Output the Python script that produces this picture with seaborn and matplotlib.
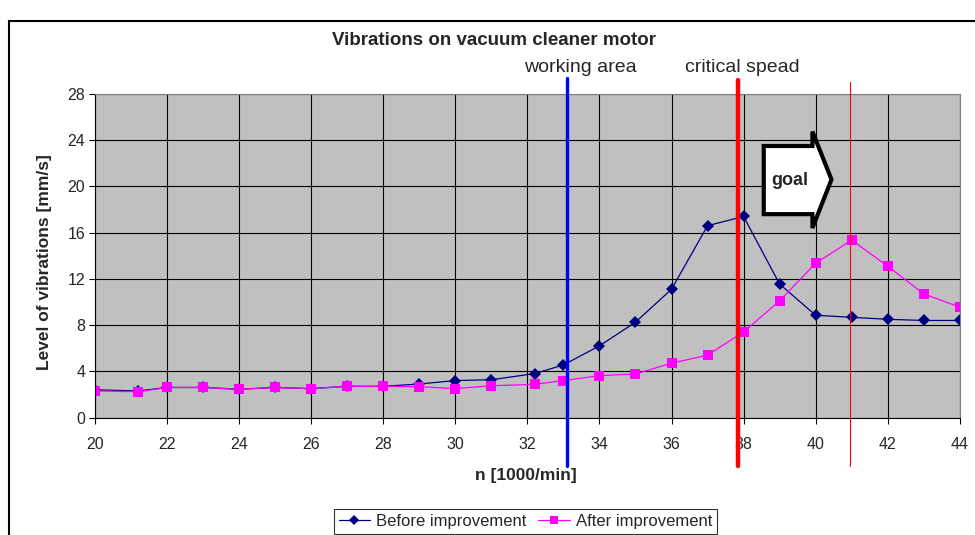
import matplotlib
matplotlib.use("Agg")
import pandas as pd
import seaborn as sns
import matplotlib.pyplot as plt
from matplotlib.patches import Rectangle, Polygon

# speed [1000/min]
speed = [20, 21.2, 22, 23, 24, 25, 26, 27, 28, 29, 30, 31, 32.2, 33, 34, 35,
         36, 37, 38, 39, 40, 41, 42, 43, 44]
before = [2.4, 2.3, 2.6, 2.6, 2.45, 2.6, 2.5, 2.7, 2.7, 2.9, 3.2, 3.27, 3.8,
          4.55, 6.2, 8.25, 11.1, 16.6, 17.4, 11.55, 8.85, 8.67, 8.5, 8.4, 8.4]
after = [2.3, 2.23, 2.6, 2.6, 2.44, 2.6, 2.5, 2.7, 2.7, 2.67, 2.5, 2.75, 2.87,
         3.2, 3.62, 3.77, 4.7, 5.4, 7.4, 10.1, 13.35, 15.35, 13.1, 10.7, 9.55]

x_ticks = list(range(20, 45, 2))
y_ticks = list(range(0, 29, 4))

working_area = 33.1
critical_speed = 37.85
goal_speed = 40.95

df = pd.DataFrame({"speed": speed, "before": before, "after": after})

sns.set_style("ticks")
plt.rcParams["font.family"] = ["Liberation Sans", "DejaVu Sans"]

fig = plt.figure(figsize=(9.75, 5.35), dpi=100)
ax = fig.add_axes([0.0974, 0.2196, 0.887, 0.6047])
ax.set_facecolor("#C0C0C0")

sns.lineplot(data=df, x="speed", y="before", ax=ax, color="#000080",
             marker="D", markersize=6, markeredgewidth=0, linewidth=0.9,
             label="Before improvement")
sns.lineplot(data=df, x="speed", y="after", ax=ax, color="#FF00FF",
             marker="s", markersize=7, markeredgewidth=0, linewidth=0.9,
             label="After improvement")

ax.set_xlim(20, 44)
ax.set_ylim(0, 28)
ax.set_xticks(x_ticks)
ax.set_yticks(y_ticks)
ax.grid(True, color="black", linewidth=0.8)
ax.set_axisbelow(True)
ax.tick_params(labelsize=11.5, length=4, width=0.8, color="black")
ax.tick_params(axis="x", pad=10)
ax.tick_params(axis="y", pad=3)
for side in ["top", "right"]:
    ax.spines[side].set_color("#808080")
for side in ["left", "bottom"]:
    ax.spines[side].set_color("black")

ax.set_xlabel("n [1000/min]", fontsize=12.5, fontweight="bold")
ax.set_ylabel("Level of vibrations [mm/s]", fontsize=12.5, fontweight="bold")
ax.xaxis.set_label_coords(0.4977, -0.178)
ax.xaxis.label.set_va("center")
ax.yaxis.set_label_coords(-0.0578, 0.48)
ax.yaxis.label.set_va("center")

# vertical marker lines reaching outside the plot area
ax.plot([working_area, working_area], [-4.2, 29.4], color="#0000FF",
        linewidth=2.4, clip_on=False, zorder=5)
ax.plot([critical_speed, critical_speed], [-4.2, 29.2], color="#FF0000",
        linewidth=3.2, clip_on=False, zorder=5)
ax.plot([goal_speed, goal_speed], [-4.2, 29.0], color="#FF0000",
        linewidth=0.8, clip_on=False, zorder=5)

ax.text(33.46, 30.3, "working area", fontsize=14, ha="center", va="center")
ax.text(37.97, 30.3, "critical spead", fontsize=14, ha="center", va="center")

# goal arrow
arrow = Polygon([(38.56, 23.5), (39.91, 23.5), (39.91, 24.75), (40.44, 20.6),
                 (39.91, 16.4), (39.91, 17.6), (38.56, 17.6)],
                closed=True, facecolor="white", edgecolor="black",
                linewidth=3, zorder=6)
ax.add_patch(arrow)
ax.text(39.28, 20.55, "goal", fontsize=13, fontweight="bold",
        ha="center", va="center", zorder=7)

fig.text(0.507, 0.925, "Vibrations on vacuum cleaner motor", fontsize=13.5,
         fontweight="bold", ha="center", va="center")

# outer chart frame
fig.patches.append(Rectangle((9 / 975, -0.1), 1.2, 1 - 20.5 / 535 + 0.1,
                             transform=fig.transFigure, fill=False,
                             edgecolor="black", linewidth=1.5))

leg = ax.legend(loc="upper center", bbox_to_anchor=(0.4977, -0.283), ncol=2,
                fontsize=12, frameon=True, fancybox=False, edgecolor="black",
                handlelength=1.9, columnspacing=0.7, handletextpad=0.36,
                borderpad=0.3, borderaxespad=0, markerscale=0.8)
leg.get_frame().set_linewidth(0.8)

fig.savefig("out.png", dpi=100)
